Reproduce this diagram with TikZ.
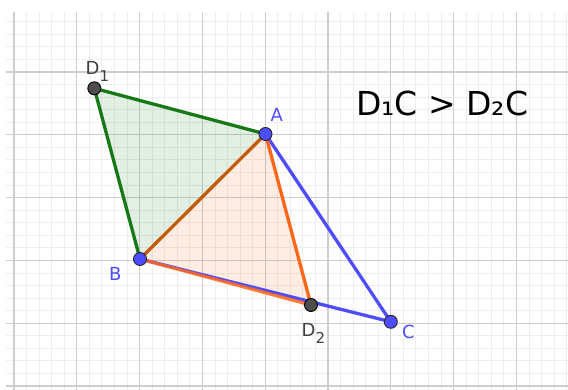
\documentclass[tikz,border=0pt]{standalone}
\usepackage{fontspec}
\setmainfont{DejaVu Sans}
\definecolor{ggblue}{RGB}{77,77,255}
\definecolor{gggreen}{RGB}{22,120,22}
\definecolor{ggorange}{RGB}{255,102,26}
\definecolor{ggbrown}{RGB}{196,90,12}
\definecolor{ggdark}{RGB}{77,77,77}
\definecolor{lbldark}{RGB}{64,64,64}
\definecolor{minorg}{RGB}{238,238,238}
\definecolor{majorg}{RGB}{206,206,206}
\tikzset{
  minorline/.style={draw=minorg, line width=0.9pt},
  majorline/.style={draw=majorg, line width=1.2pt},
  seg/.style={line width=3.3pt, line cap=round},
  bluept/.style={circle, draw=black!85, line width=0.9pt, fill=ggblue, minimum size=13pt, inner sep=0pt},
  darkpt/.style={circle, draw=black, line width=0.9pt, fill=ggdark, minimum size=13pt, inner sep=0pt},
  lbl/.style={anchor=base west, inner sep=0pt, font=\fontsize{18pt}{18pt}\selectfont},
}
\newcommand{\subnum}[1]{\lower7pt\hbox{\fontsize{15pt}{15pt}\selectfont #1}}
\begin{document}
\begin{tikzpicture}[x=1pt,y=-1pt]
\useasboundingbox (0,0) rectangle (568,390);
% grid
\foreach \k in {0,...,44} \draw[minorline] ({14+12.56*\k},12) -- ({14+12.56*\k},390);
\foreach \k in {0,...,29} \draw[minorline] (6,{386-12.56*\k}) -- (568,{386-12.56*\k});
\foreach \k in {0,...,8} \draw[majorline] ({14+62.8*\k},12) -- ({14+62.8*\k},390);
\foreach \k in {0,...,5} \draw[majorline] (6,{386-62.8*\k}) -- (568,{386-62.8*\k});
% points
\coordinate (pA) at (265.5,134);
\coordinate (pB) at (140,259);
\coordinate (pC) at (390.8,321.8);
\coordinate (pD1) at (94.3,88.3);
\coordinate (pD2) at (311,305);
% fills
\fill[gggreen, fill opacity=0.12] (pD1) -- (pA) -- (pB) -- cycle;
\fill[ggorange, fill opacity=0.12] (pA) -- (pB) -- (pD2) -- cycle;
% segments
\draw[seg, gggreen] (pD1) -- (pA);
\draw[seg, gggreen] (pD1) -- (pB);
\draw[seg, ggblue] (pA) -- (pC);
\draw[seg, ggblue] (pB) -- (pC);
\draw[seg, ggorange] (pA) -- (pD2);
\draw[seg, ggorange, draw opacity=0.85] (pB) -- (pD2);
\draw[seg, ggbrown] (pA) -- (pB);
% point markers
\node[bluept] (A) at (pA) {};
\node[bluept] (B) at (pB) {};
\node[bluept] (C) at (pC) {};
\node[darkpt] (D1) at (pD1) {};
\node[darkpt] (D2) at (pD2) {};
% labels
\node[lbl, text=lbldark] (lD1) at (85.5,75) {D\subnum{1}};
\node[lbl, text=lbldark] (lD2) at (301.5,336) {D\subnum{2}};
\node[lbl, text=ggblue] (lA) at (270.5,122) {A};
\node[lbl, text=ggblue] (lB) at (109,281) {B};
\node[lbl, text=ggblue] (lC) at (402,338) {C};
\node[anchor=base west, inner sep=0pt, font=\fontsize{33pt}{33pt}\selectfont] (eq) at (356,115.7) {D₁C > D₂C};
\end{tikzpicture}
\end{document}
